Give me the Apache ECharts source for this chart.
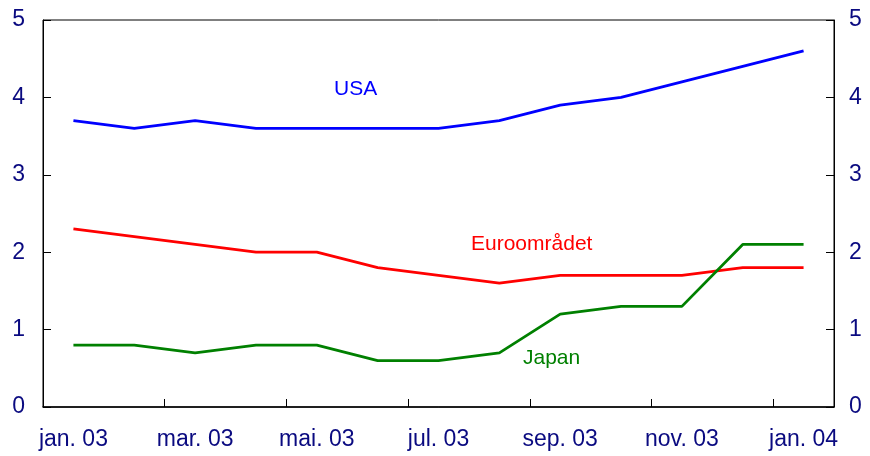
<!DOCTYPE html>
<html>
<head>
  <meta charset="UTF-8">
  <title>Renter</title>
  <script src="https://cdn.jsdelivr.net/npm/echarts@6/dist/echarts.min.js"></script>
  <style>html,body{margin:0;padding:0;background:#fff;}</style>
</head>
<body>
  <div id="chart" style="width: 870px;height:456px;"></div>
  <script type="text/javascript">
    const months = ['jan. 03', 'feb. 03', 'mar. 03', 'apr. 03', 'mai. 03', 'jun. 03', 'jul. 03',
                    'aug. 03', 'sep. 03', 'okt. 03', 'nov. 03', 'des. 03', 'jan. 04'];
    const usa = [3.7, 3.6, 3.7, 3.6, 3.6, 3.6, 3.6, 3.7, 3.9, 4.0, 4.2, 4.4, 4.6];
    const euro = [2.3, 2.2, 2.1, 2.0, 2.0, 1.8, 1.7, 1.6, 1.7, 1.7, 1.7, 1.8, 1.8];
    const japan = [0.8, 0.8, 0.7, 0.8, 0.8, 0.6, 0.6, 0.7, 1.2, 1.3, 1.3, 2.1, 2.1];

    const labelColor = '#0a0a80';
    const font = 'Liberation Sans, Arial, sans-serif';

    const myChart = echarts.init(document.getElementById('chart'));

    // y-akse, lik på begge sider
    const yAxisBase = {
      type: 'value',
      min: 0,
      max: 5,
      interval: 1,
      axisLine: { show: true, lineStyle: { color: '#000', width: 1 } },
      axisTick: { show: true, inside: true, length: 8, lineStyle: { color: '#000' } },
      splitLine: { show: false },
      axisLabel: { color: labelColor, fontSize: 23, fontFamily: font }
    };

    const option = {
      animation: false,
      grid: {
        left: 43, right: 36, top: 20, bottom: 49,
        show: true, borderColor: '#000', borderWidth: 1
      },
      xAxis: {
        type: 'category',
        data: months,
        boundaryGap: true,
        axisLine: { show: true, lineStyle: { color: '#000', width: 1.5 } },
        axisTick: { show: true, inside: true, length: 8, interval: 1, lineStyle: { color: '#000' } },
        axisLabel: { interval: 1, color: labelColor, fontSize: 23, fontFamily: font, margin: 21 }
      },
      yAxis: [
        Object.assign({}, yAxisBase, { position: 'left', axisLabel: Object.assign({}, yAxisBase.axisLabel, { margin: 18 }) }),
        Object.assign({}, yAxisBase, { position: 'right', axisLabel: Object.assign({}, yAxisBase.axisLabel, { margin: 15 }) })
      ],
      series: [
        { name: 'USA', type: 'line', data: usa, symbol: 'none', lineStyle: { color: '#0000ff', width: 2.8 } },
        { name: 'Euroområdet', type: 'line', data: euro, symbol: 'none', lineStyle: { color: '#ff0000', width: 2.8 } },
        { name: 'Japan', type: 'line', data: japan, symbol: 'none', lineStyle: { color: '#008000', width: 2.8 } }
      ],
      graphic: [
        { type: 'text', left: 334, top: 79, style: { text: 'USA', fill: '#0000ff', font: '21px ' + font } },
        { type: 'text', left: 471, top: 234, style: { text: 'Euroområdet', fill: '#ff0000', font: '21px ' + font } },
        { type: 'text', left: 523, top: 348, style: { text: 'Japan', fill: '#008000', font: '21px ' + font } }
      ]
    };
    myChart.setOption(option);
  </script>
</body>
</html>
